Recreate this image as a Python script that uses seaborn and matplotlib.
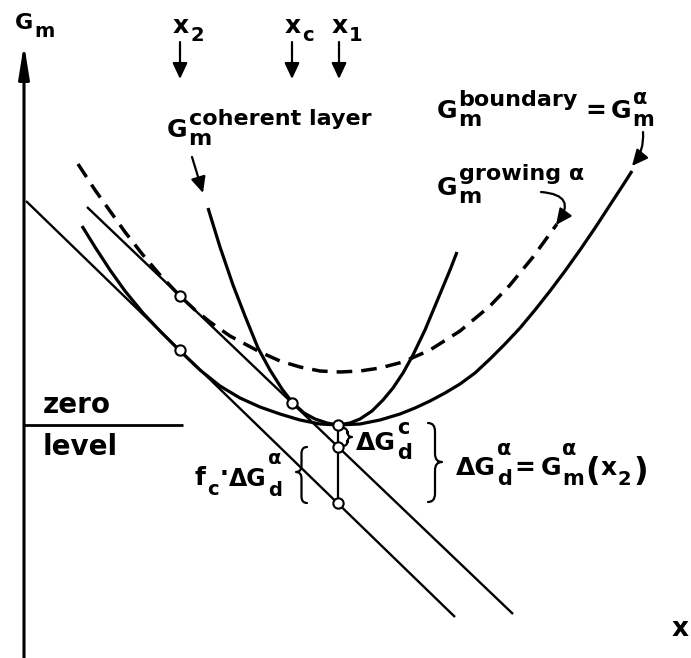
import matplotlib
matplotlib.use("Agg")
import matplotlib.pyplot as plt
import pandas as pd
import seaborn as sns
from matplotlib.path import Path
from matplotlib.patches import PathPatch

# Diagram units: x grows to the right, G is measured downward from the top edge.

# G_m^boundary = G_m^alpha (solid curve)
boundary_x = [82, 95, 110, 125, 143, 160, 179, 200, 220, 240, 260, 280, 300, 320, 338,
              360, 380, 400, 415, 430, 445, 460, 475, 490, 505, 520, 535, 550, 565,
              580, 595, 610, 625, 632]
boundary_g = [226, 247, 270, 291, 313, 331, 350, 370, 386, 398, 407, 414, 420, 424, 425,
              424, 420, 414, 408, 401, 393, 384, 373, 359, 344, 328, 310, 291, 271,
              250, 228, 205, 182, 171]

# G_m^growing alpha (dashed curve)
growing_x = [78, 95, 110, 125, 143, 160, 180, 195, 210, 230, 260, 280, 300, 320, 340,
             360, 380, 403, 430, 460, 490, 510, 533, 557]
growing_g = [164, 190, 211, 232, 255, 275, 296, 310, 322, 336, 352, 361, 367, 371, 372,
             371, 368, 362, 350, 331, 306, 285, 257, 224]

# G_m^coherent layer (narrow curve)
coherent_x = [208, 220, 233, 245, 258, 270, 282, 292, 304, 315, 327, 338,
              350, 360, 372, 383, 393, 403, 413, 425, 440, 450, 457]
coherent_g = [208, 247, 285, 316, 348, 370, 389, 402, 413, 419, 423, 425,
              423, 419, 411, 400, 388, 373, 355, 330, 294, 270, 252]

# common tangent lines
tangent_alpha_x = [26, 455]
tangent_alpha_g = [201, 617]
tangent_growing_x = [87, 513]
tangent_growing_g = [207, 614]

# marked points (open circles)
point_x = [180, 180, 292, 338, 338, 338]
point_g = [296, 350, 403, 425, 447, 503]

# drop line at x1
drop_x = [338, 338]
drop_g = [425, 503]

# composition markers on top
comp_names = ["2", "c", "1"]
comp_x = [180, 292, 339]

# zero level
zero_x = [24, 183]
zero_g = [425, 425]

INK = "black"
FONT = ["DejaVu Sans"]

sns.set_theme(style="white")
plt.rcParams["font.family"] = FONT
plt.rcParams["font.weight"] = "bold"

fig = plt.figure(figsize=(6.91, 6.58), dpi=100)
ax = fig.add_axes([0, 0, 1, 1])


def curve(xs, gs, lw, ls="-"):
    df = pd.DataFrame({"x": xs, "g": gs})
    sns.lineplot(data=df, x="x", y="g", sort=False, estimator=None, ax=ax,
                 color=INK, lw=lw, linestyle=ls, solid_capstyle="butt",
                 solid_joinstyle="round", legend=False)


curve(boundary_x, boundary_g, 2.3)
curve(growing_x, growing_g, 2.5, ls=(0, (4.5, 2.6)))
curve(coherent_x, coherent_g, 2.3)
curve(tangent_alpha_x, tangent_alpha_g, 1.7)
curve(tangent_growing_x, tangent_growing_g, 1.7)
curve(drop_x, drop_g, 1.6)
curve(zero_x, zero_g, 2.0)

pts = pd.DataFrame({"x": point_x, "g": point_g})
sns.scatterplot(data=pts, x="x", y="g", ax=ax, s=55, color="white",
                edgecolor=INK, linewidth=1.5, zorder=5, legend=False)

ax.set_xlim(0, 691)
ax.set_ylim(658, 0)
ax.axis("off")

# axes with arrows
axis_arrow = dict(arrowstyle="-|>,head_length=1.0,head_width=0.16",
                  lw=2.2, color=INK, mutation_scale=20, shrinkA=0, shrinkB=0)
ax.annotate("", xy=(24, 44), xytext=(24, 658), arrowprops=axis_arrow)
ax.annotate("", xy=(700, 653), xytext=(22, 653), arrowprops=axis_arrow)

# composition arrows
for xc in comp_x:
    ax.annotate("", xy=(xc, 79), xytext=(xc, 42),
                arrowprops=dict(arrowstyle="-|>,head_length=0.6,head_width=0.28",
                                lw=1.6, color=INK, mutation_scale=16, shrinkA=0, shrinkB=0))

# label pointers
pointer = dict(arrowstyle="-|>,head_length=0.6,head_width=0.28",
               lw=1.6, color=INK, mutation_scale=16, shrinkA=0, shrinkB=0)
ax.annotate("", xy=(203, 193), xytext=(192, 157), arrowprops=pointer)
ax.annotate("", xy=(632, 166), xytext=(643, 132),
            arrowprops=dict(pointer, connectionstyle="arc3,rad=-0.2"))
ax.annotate("", xy=(556, 225), xytext=(541, 192),
            arrowprops=dict(pointer, connectionstyle="arc3,rad=-0.9"))


def brace(x, y0, y1, width, tip, lw=1.6):
    h = width / 2.0
    r = abs(h) * 1.2
    verts = [(x, y0), (x + h, y0), (x + h, y0 + r), (x + h, tip - r),
             (x + h, tip), (x + width, tip), (x + h, tip), (x + h, tip + r),
             (x + h, y1 - r), (x + h, y1), (x, y1)]
    codes = [Path.MOVETO, Path.CURVE3, Path.CURVE3, Path.LINETO,
             Path.CURVE3, Path.CURVE3, Path.CURVE3, Path.CURVE3,
             Path.LINETO, Path.CURVE3, Path.CURVE3]
    ax.add_patch(PathPatch(Path(verts, codes), fill=False, lw=lw, color=INK,
                           capstyle="round", joinstyle="round"))


brace(428, 423, 502, 14, 462)
brace(343, 428, 446, 9, 437)
brace(307, 447, 503, -11, 472)

renderer = fig.canvas.get_renderer()


def write(x, y, s, size):
    return ax.text(x, y, s, fontsize=size, ha="left", va="baseline", color=INK,
                   fontweight="bold")


def right_of(t):
    bb = t.get_window_extent(renderer=renderer)
    return ax.transData.inverted().transform((bb.x1, bb.y0))[0]


def symbol(x, y, base, size, sup=None, sub=None, sup_dy=12, sub_dy=9, ssize=15, gap=1):
    """Base text with a stacked superscript/subscript; returns the right edge."""
    t = write(x, y, base, size)
    xe = right_of(t) + gap
    ends = [right_of(t)]
    if sup:
        ends.append(right_of(write(xe, y - sup_dy, sup, ssize)))
    if sub:
        ends.append(right_of(write(xe, y + sub_dy, sub, ssize)))
    return max(ends)


# axis titles
symbol(15, 29, "G", 16, sub="m", sub_dy=8, ssize=14)
write(672, 636, "x", 19)

# composition labels
for xc, name in zip(comp_x, comp_names):
    symbol(xc - 7, 33, "x", 18, sub=name, sub_dy=8, ssize=14)

# curve labels
symbol(167, 137, "G", 18, sup="coherent layer", sub="m", sup_dy=12, sub_dy=8, ssize=16)

symbol(437, 118, "G", 18, sup="boundary", sub="m", sup_dy=12, sub_dy=8, ssize=16)
write(585, 118, "=", 18)
symbol(611, 118, "G", 18, sup="α", sub="m", sup_dy=14, sub_dy=8, ssize=15)

symbol(437, 195, "G", 18, sup="growing α", sub="m", sup_dy=15, sub_dy=8, ssize=16)

write(43, 413, "zero", 20)
write(43, 455, "level", 20)

xe = symbol(195, 485, "f", 18, sub="c", sub_dy=10, ssize=14)
dot = write(xe + 1, 481, "·", 17)
symbol(right_of(dot) + 1, 486, "ΔG", 17, sup="α", sub="d", sup_dy=22, sub_dy=10, ssize=14)

symbol(356, 450, "ΔG", 18, sup="c", sub="d", sup_dy=16, sub_dy=9, ssize=15)

xe = symbol(456, 475, "ΔG", 18, sup="α", sub="d", sup_dy=20, sub_dy=10, ssize=15)
t = write(xe + 3, 475, "=", 18)
xe = symbol(right_of(t) + 5, 475, "G", 18, sup="α", sub="m", sup_dy=20, sub_dy=10, ssize=15)
t = write(xe + 1, 480, "(", 23)
xe = symbol(right_of(t) + 1, 475, "x", 18, sub="2", sub_dy=10, ssize=14)
write(xe + 2, 480, ")", 23)

fig.savefig("out.png", dpi=100)
